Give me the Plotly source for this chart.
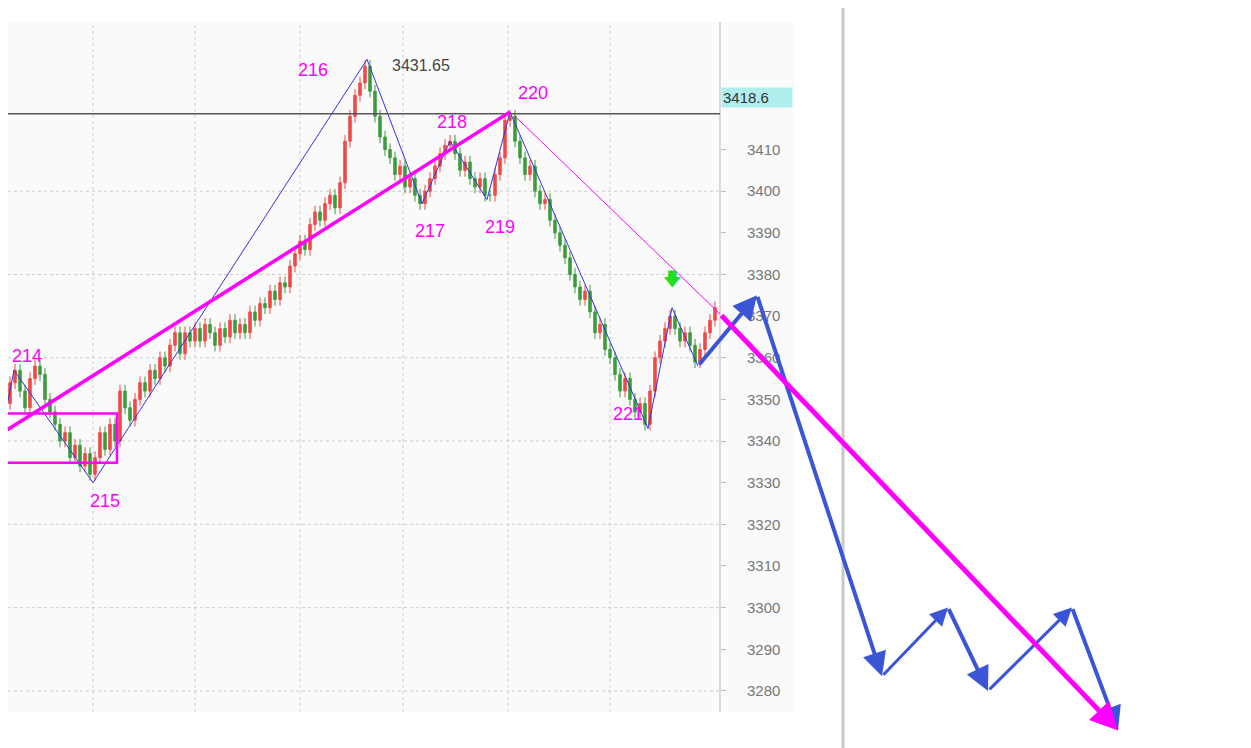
import plotly.graph_objects as go

# candle positions (pixel-like x units) and closing prices
xs = list(range(0, 720, 5))
closes = [3344, 3349, 3354, 3357,
          3352, 3348, 3355, 3358, 3356,
          3350, 3347, 3344, 3340,
          3342, 3336, 3339, 3334, 3337, 3332,
          3336, 3342, 3338, 3344, 3340,
          3352, 3348, 3345, 3350, 3354,
          3352, 3357, 3355, 3360, 3358,
          3363, 3366, 3361, 3366, 3364, 3367,
          3364, 3368, 3366, 3363, 3367, 3365, 3369,
          3366, 3368, 3366, 3371, 3369, 3373,
          3372, 3376, 3374, 3378, 3377, 3382, 3385,
          3388, 3386, 3392, 3395, 3393, 3397,
          3399, 3396, 3402, 3412, 3418,
          3423, 3426, 3430,
          3424, 3418, 3413, 3410, 3408, 3404,
          3406, 3401, 3403, 3399, 3397,
          3400, 3403, 3406, 3409, 3411, 3412,
          3409, 3405, 3407, 3403, 3401, 3403, 3399,
          3399, 3404, 3408, 3417,
          3418, 3412, 3408, 3404, 3406, 3400, 3397,
          3398, 3393, 3390, 3387, 3384, 3380, 3377,
          3374, 3376, 3371, 3366, 3368, 3362, 3360,
          3356, 3352, 3355, 3350, 3347, 3349, 3344,
          3352, 3360, 3364, 3367, 3370,
          3367, 3364, 3366, 3363, 3359,
          3362, 3366, 3369, 3372]
opens = [3341] + closes[:-1]
highs = [max(o, c) + 1.5 for o, c in zip(opens, closes)]
lows = [min(o, c) - 1.5 for o, c in zip(opens, closes)]

# zigzag pivots
zig_x = [0, 14, 93, 367, 422, 450, 487, 510, 648, 672, 698]
zig_y = [3340, 3357, 3330, 3431.65, 3397, 3412, 3398, 3419, 3343, 3372, 3358]
pivot_labels = ["214", "215", "216", "217", "218", "219", "220", "221"]
label_x = [27, 105, 313, 430, 452, 500, 533, 628]
label_y = [3360.5, 3325.5, 3429, 3390.5, 3416.5, 3391.5, 3423.5, 3346.5]

# projected path (hand-drawn forecast)
proj_x = [698, 757, 882, 948, 988, 1072, 1118]
proj_y = [3358, 3375, 3283.5, 3300, 3280, 3300, 3270.5]

last_price = 3418.6
peak_price = 3431.65
box_y = [3334.8, 3346.6]
ytick_vals = list(range(3280, 3420, 10))

BLUE = "#3a55d6"
MAG = "#ff00ff"
OFF = 8  # page margin around the figure
Y0, Y1 = 3410 - (748 - 148) / 4.12, 3410 + (148 - OFF) / 4.12


def py(s):
    # screen pixel row -> paper fraction
    return 1 - (s - OFF) / 748


fig = go.Figure()
fig.add_trace(go.Candlestick(
    x=xs, open=opens, high=highs, low=lows, close=closes,
    increasing=dict(line=dict(color="#f04848", width=1), fillcolor="#f04848"),
    decreasing=dict(line=dict(color="#3c9c3c", width=1), fillcolor="#3c9c3c"),
    whiskerwidth=0, showlegend=False, hoverinfo="skip"))
fig.add_trace(go.Scatter(x=zig_x, y=zig_y, mode="lines",
                         line=dict(color="#3333dd", width=1), showlegend=False))

shapes = [
    dict(type="rect", xref="x", yref="paper", x0=-10, x1=795, y0=py(712), y1=py(22),
         fillcolor="#fafafa", line_width=0, layer="below"),
    dict(type="line", x0=843, x1=843, yref="paper", y0=0, y1=1, line=dict(color="#c8c8c8", width=3)),
    dict(type="line", x0=720, x1=720, yref="paper", y0=py(712), y1=py(22), line=dict(color="#bbbbbb", width=1)),
    dict(type="line", x0=-10, x1=720, y0=last_price, y1=last_price, line=dict(color="#555555", width=1.5)),
    dict(type="rect", x0=-10, x1=117, y0=box_y[0], y1=box_y[1], line=dict(color=MAG, width=2.5)),
    dict(type="line", x0=0, y0=3341.6, x1=510, y1=3419, line=dict(color=MAG, width=3.5)),
    dict(type="line", x0=515, y0=3418, x1=720, y1=3370.5, line=dict(color=MAG, width=1)),
]
for gx in [93, 195, 300, 403, 508, 610]:
    shapes.append(dict(type="line", x0=gx, x1=gx, yref="paper", y0=py(712), y1=py(22),
                       line=dict(color="#cccccc", width=1, dash="dot"), layer="below"))
for gy in range(3280, 3420, 20):
    shapes.append(dict(type="line", x0=-10, x1=720, y0=gy, y1=gy,
                       line=dict(color="#cccccc", width=1, dash="dot"), layer="below"))

ann = []
for t, lx, ly in zip(pivot_labels, label_x, label_y):
    ann.append(dict(x=lx, y=ly, text=t, showarrow=False, font=dict(color=MAG, size=18)))
ann.append(dict(x=-8, y=3319, text="3", showarrow=False, xanchor="center", font=dict(color=MAG, size=18)))
ann.append(dict(x=390, y=peak_price - 1.5, text=str(peak_price), showarrow=False, xanchor="left",
                font=dict(color="#444444", size=16)))
ann.append(dict(x=721, y=last_price + 4, text=f"{last_price}", showarrow=False, xanchor="left",
                bgcolor="#b0eeee", font=dict(color="#333333", size=15), width=68, align="left"))
ann.append(dict(x=672, y=3379, text="🡇", showarrow=False, font=dict(color="#22dd22", size=18)))
# projection arrows
widths = [4, 4, 3, 4, 3, 4]
for i in range(len(proj_x) - 1):
    ann.append(dict(x=proj_x[i+1], y=proj_y[i+1], ax=proj_x[i], ay=proj_y[i], xref="x", yref="y",
                    axref="x", ayref="y", text="", showarrow=True, arrowhead=2, arrowsize=1.2,
                    arrowwidth=widths[i], arrowcolor=BLUE))
ann.append(dict(x=1118, y=3270.5, ax=720, ay=3370.5, xref="x", yref="y", axref="x", ayref="y",
                text="", showarrow=True, arrowhead=2, arrowsize=1.1, arrowwidth=5, arrowcolor=MAG))

fig.update_layout(
    width=1251, height=748, margin=dict(l=0, r=0, t=0, b=0),
    paper_bgcolor="white", plot_bgcolor="rgba(0,0,0,0)",
    font=dict(family="Liberation Sans, Arial"),
    shapes=shapes, annotations=ann,
    xaxis=dict(range=[OFF, 1251 + OFF], domain=[0, 1], visible=False, rangeslider=dict(visible=False)),
    yaxis=dict(range=[Y0, Y1], domain=[0, 1], anchor="free", position=(720 - OFF) / 1251, side="right",
               tickvals=ytick_vals, ticks="outside", ticklen=5, tickcolor="#bbbbbb",
               showgrid=False, zeroline=False, showline=False,
               tickfont=dict(color="#777777", size=15), ticklabelstandoff=18),
)
fig.write_html("out.html")
